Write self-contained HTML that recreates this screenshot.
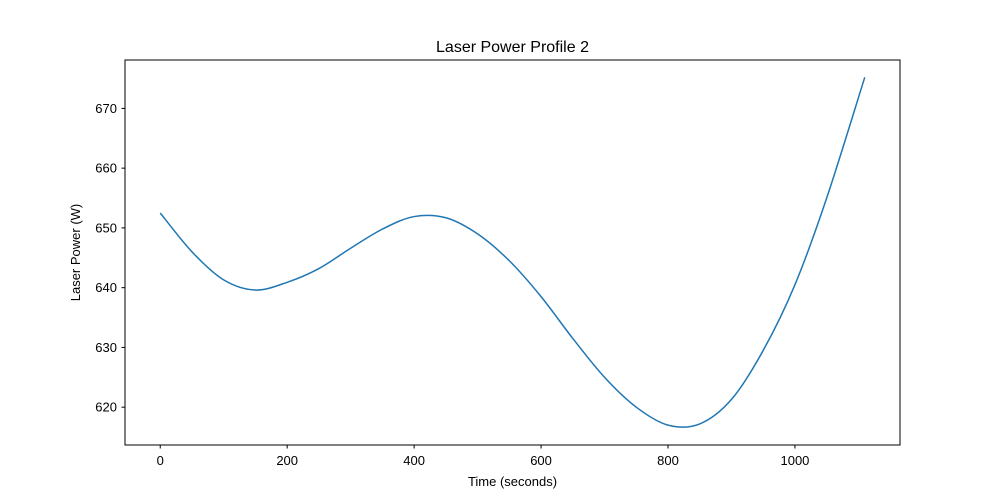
<!DOCTYPE html>
<html><head><meta charset="utf-8"><style>
body{margin:0;background:#fff;}
svg{display:block;font-family:"Liberation Sans","DejaVu Sans",sans-serif;}
</style></head><body>
<svg id="chart" width="1000" height="500">
<rect width="1000" height="500" fill="#fff"/>
<text x="512.5" y="52" text-anchor="middle" font-size="16">Laser Power Profile 2</text>
<g id="xt"></g><g id="yt"></g>
<path id="line" fill="none" stroke="#1f77b4" stroke-width="1.5"/>
<rect x="125" y="60" width="775" height="385" fill="none" stroke="#000" stroke-width="1"/>
<text x="512.5" y="486" text-anchor="middle" font-size="13">Time (seconds)</text>
<text transform="translate(80,252.5) rotate(-90)" text-anchor="middle" font-size="13">Laser Power (W)</text>
</svg>
<script>
const times=[0,50,100,150,200,250,300,350,400,450,500,550,600,650,700,750,800,850,900,950,1000,1050,1110];
const powers=[652.5,646.0,641.3,639.6,640.9,643.2,646.6,649.8,651.9,651.7,649.0,644.5,638.5,631.5,625.0,620.0,617.0,617.2,621.3,629.5,640.5,655.0,675.2];
const xTicks=[0,200,400,600,800,1000];
const yTicks=[620,630,640,650,660,670];
const X0=125,X1=900,Y0=445,Y1=60;
const xmin=-55.5,xmax=1165.5,ymin=613.67,ymax=678.1;
const sx=v=>X0+(v-xmin)/(xmax-xmin)*(X1-X0);
const sy=v=>Y0-(v-ymin)/(ymax-ymin)*(Y0-Y1);
const ns="http://www.w3.org/2000/svg";
function mk(t,a,p){const e=document.createElementNS(ns,t);for(const k in a)e.setAttribute(k,a[k]);p.appendChild(e);return e;}
const xt=document.getElementById('xt'),yt=document.getElementById('yt');
xTicks.forEach(v=>{const x=sx(v);
const l=mk('line',{x1:x,x2:x,y1:445,y2:448.5,stroke:'#000'},xt);


const t=mk('text',{x:x,y:465,'text-anchor':'middle','font-size':13},xt);t.textContent=v;

});
yTicks.forEach(v=>{const y=sy(v);
const l=mk('line',{x1:121.5,x2:125,y1:y,y2:y,stroke:'#000'},yt);


const t=mk('text',{x:117,y:y+4.5,'text-anchor':'end','font-size':13},yt);t.textContent=v;

});
const P=times.map((t,i)=>[sx(t),sy(powers[i])]);
let d='M'+P[0][0]+','+P[0][1];
for(let i=0;i<P.length-1;i++){const p0=P[Math.max(0,i-1)],p1=P[i],p2=P[i+1],p3=P[Math.min(P.length-1,i+2)];
const c1=[p1[0]+(p2[0]-p0[0])/6,p1[1]+(p2[1]-p0[1])/6],c2=[p2[0]-(p3[0]-p1[0])/6,p2[1]-(p3[1]-p1[1])/6];
d+=`C${c1[0]},${c1[1]} ${c2[0]},${c2[1]} ${p2[0]},${p2[1]}`;}
document.getElementById('line').setAttribute('d',d);
</script>
</body></html>
